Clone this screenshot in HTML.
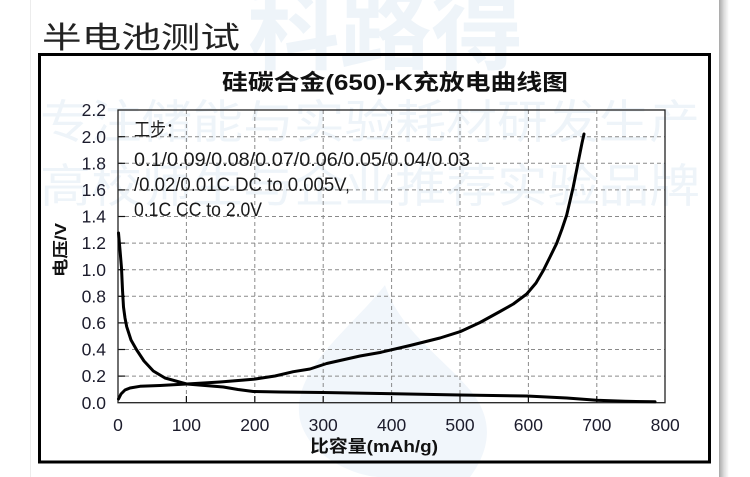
<!DOCTYPE html>
<html><head><meta charset="utf-8">
<style>
html,body{margin:0;padding:0;background:#fff;}
svg{display:block;}
</style></head>
<body>
<svg width="750" height="477" viewBox="0 0 750 477" xmlns="http://www.w3.org/2000/svg">
<defs>
<linearGradient id="sh" x1="0" y1="0" x2="1" y2="0">
<stop offset="0" stop-color="#a8a8a8"/>
<stop offset="0.5" stop-color="#dcdcdc"/>
<stop offset="1" stop-color="#ffffff"/>
</linearGradient>
</defs>
<rect x="0" y="0" width="750" height="477" fill="#fff"/>
<line x1="30.5" y1="0" x2="30.5" y2="477" stroke="#ececec" stroke-width="1"/>
<rect x="719" y="0" width="10" height="477" fill="url(#sh)"/>

<!-- watermark -->
<g fill="#eef4f9" font-family="Liberation Sans, Noto Sans CJK SC, sans-serif" font-weight="bold">
<text x="248" y="62" font-size="92" textLength="275" lengthAdjust="spacingAndGlyphs">科路得</text>
<text x="40" y="138" font-size="46" textLength="660" lengthAdjust="spacingAndGlyphs" font-weight="normal">专注储能与实验耗材研发生产</text>
<text x="40" y="202" font-size="46" textLength="660" lengthAdjust="spacingAndGlyphs" font-weight="normal">高校师生与企业推荐实验品牌</text>
</g>
<path d="M385 285 C350 330 290 370 300 420 C310 460 360 477 380 477 L470 477 C490 450 495 420 470 390 C440 355 400 330 385 285 Z" fill="#f1f6fb"/>

<!-- page title -->
<text x="42" y="48" font-family="Liberation Sans, Noto Sans CJK SC, sans-serif" font-size="30" fill="#222" textLength="198" lengthAdjust="spacingAndGlyphs">半电池测试</text>

<!-- frame -->
<rect x="39.5" y="54.5" width="670" height="407.5" fill="none" stroke="#000" stroke-width="3"/>

<!-- chart title -->
<text x="222" y="90" font-family="Liberation Sans, Noto Sans CJK SC, sans-serif" font-size="22" font-weight="bold" fill="#111" textLength="346" lengthAdjust="spacingAndGlyphs">硅碳合金(650)-K充放电曲线图</text>

<!-- grid -->
<g stroke="#8a8a8a" stroke-width="1" stroke-dasharray="4,3" fill="none">
<line x1="186.4" y1="110" x2="186.4" y2="402.7"/>
<line x1="254.8" y1="110" x2="254.8" y2="402.7"/>
<line x1="323.2" y1="110" x2="323.2" y2="402.7"/>
<line x1="391.6" y1="110" x2="391.6" y2="402.7"/>
<line x1="460" y1="110" x2="460" y2="402.7"/>
<line x1="528.4" y1="110" x2="528.4" y2="402.7"/>
<line x1="596.8" y1="110" x2="596.8" y2="402.7"/>
<line x1="118" y1="376.1" x2="665" y2="376.1"/>
<line x1="118" y1="349.5" x2="665" y2="349.5"/>
<line x1="118" y1="322.9" x2="665" y2="322.9"/>
<line x1="118" y1="296.3" x2="665" y2="296.3"/>
<line x1="118" y1="269.7" x2="665" y2="269.7"/>
<line x1="118" y1="243.1" x2="665" y2="243.1"/>
<line x1="118" y1="216.5" x2="665" y2="216.5"/>
<line x1="118" y1="189.9" x2="665" y2="189.9"/>
<line x1="118" y1="163.3" x2="665" y2="163.3"/>
<line x1="118" y1="136.7" x2="665" y2="136.7"/>
</g>
<!-- ticks -->
<g stroke="#111" stroke-width="1.2">
<line x1="118" y1="376.1" x2="125" y2="376.1"/>
<line x1="118" y1="349.5" x2="125" y2="349.5"/>
<line x1="118" y1="322.9" x2="125" y2="322.9"/>
<line x1="118" y1="296.3" x2="125" y2="296.3"/>
<line x1="118" y1="269.7" x2="125" y2="269.7"/>
<line x1="118" y1="243.1" x2="125" y2="243.1"/>
<line x1="118" y1="216.5" x2="125" y2="216.5"/>
<line x1="118" y1="189.9" x2="125" y2="189.9"/>
<line x1="118" y1="163.3" x2="125" y2="163.3"/>
<line x1="118" y1="136.7" x2="125" y2="136.7"/>
<line x1="186.4" y1="402.7" x2="186.4" y2="396"/>
<line x1="254.8" y1="402.7" x2="254.8" y2="396"/>
<line x1="323.2" y1="402.7" x2="323.2" y2="396"/>
<line x1="391.6" y1="402.7" x2="391.6" y2="396"/>
<line x1="460" y1="402.7" x2="460" y2="396"/>
<line x1="528.4" y1="402.7" x2="528.4" y2="396"/>
<line x1="596.8" y1="402.7" x2="596.8" y2="396"/>
</g>
<rect x="118" y="110" width="547" height="292.7" fill="none" stroke="#222" stroke-width="1.3"/>

<!-- annotation text -->
<g font-family="Liberation Sans, Noto Sans CJK SC, sans-serif" font-size="19" fill="#1a1a1a">
<text x="134" y="136" textLength="48" lengthAdjust="spacingAndGlyphs">工步：</text>
<text x="134" y="166" textLength="336" lengthAdjust="spacingAndGlyphs">0.1/0.09/0.08/0.07/0.06/0.05/0.04/0.03</text>
<text x="134" y="191" textLength="216" lengthAdjust="spacingAndGlyphs">/0.02/0.01C DC to 0.005V,</text>
<text x="134" y="216" textLength="128" lengthAdjust="spacingAndGlyphs">0.1C CC to 2.0V</text>
</g>

<!-- curves -->
<g fill="none" stroke="#000" stroke-width="3" stroke-linejoin="round" stroke-linecap="round">
<polyline points="118.5,233 120,250 121.5,268 122.5,290 123.5,307 125,318 126.7,326.7 131,340 136.7,350 144,361 153.3,371 165,378 186.7,384 205,385.5 223.3,387 238,389.5 253.3,391.5 280,392 323,392.5 380,393.5 460,395 526.7,396 566.7,398 596.7,400.3 625,401.3 655,401.8"/>
<polyline points="118.5,399 121,394 125,390 130,388 140,386.3 160,385.5 186.7,384 220,382 253.3,379.3 275,376 293.3,371.7 310,369 326.7,363.5 360,356 380,352.5 410,345.5 440,338 460,331.7 480,322.5 500,311.5 513.3,304 526.7,294 536,283 543.3,270.5 550,257 556.7,243.3 562,229 566.7,215 573.3,186.7 578,163 582,143 584,134"/>
</g>

<!-- y tick labels -->
<g font-family="Liberation Sans, sans-serif" font-size="17.5" fill="#1c1c2c" text-anchor="end">
<text x="106" y="409">0.0</text>
<text x="106" y="382">0.2</text>
<text x="106" y="355.5">0.4</text>
<text x="106" y="329">0.6</text>
<text x="106" y="302.5">0.8</text>
<text x="106" y="276">1.0</text>
<text x="106" y="249">1.2</text>
<text x="106" y="222.5">1.4</text>
<text x="106" y="196">1.6</text>
<text x="106" y="169.5">1.8</text>
<text x="106" y="143">2.0</text>
<text x="106" y="116">2.2</text>
</g>
<!-- x tick labels -->
<g font-family="Liberation Sans, sans-serif" font-size="17.5" fill="#1c1c2c" text-anchor="middle">
<text x="118" y="431">0</text>
<text x="186.4" y="431">100</text>
<text x="254.8" y="431">200</text>
<text x="323.2" y="431">300</text>
<text x="391.6" y="431">400</text>
<text x="460" y="431">500</text>
<text x="528.4" y="431">600</text>
<text x="596.8" y="431">700</text>
<text x="665.2" y="431">800</text>
</g>

<!-- axis titles -->
<text x="310" y="452" font-family="Liberation Sans, Noto Sans CJK SC, sans-serif" font-size="17" font-weight="bold" fill="#111" textLength="128" lengthAdjust="spacingAndGlyphs">比容量(mAh/g)</text>
<text transform="translate(66,277) rotate(-90)" font-family="Liberation Sans, Noto Sans CJK SC, sans-serif" font-size="16" font-weight="bold" fill="#111" textLength="54" lengthAdjust="spacingAndGlyphs">电压/V</text>
</svg>
</body></html>
